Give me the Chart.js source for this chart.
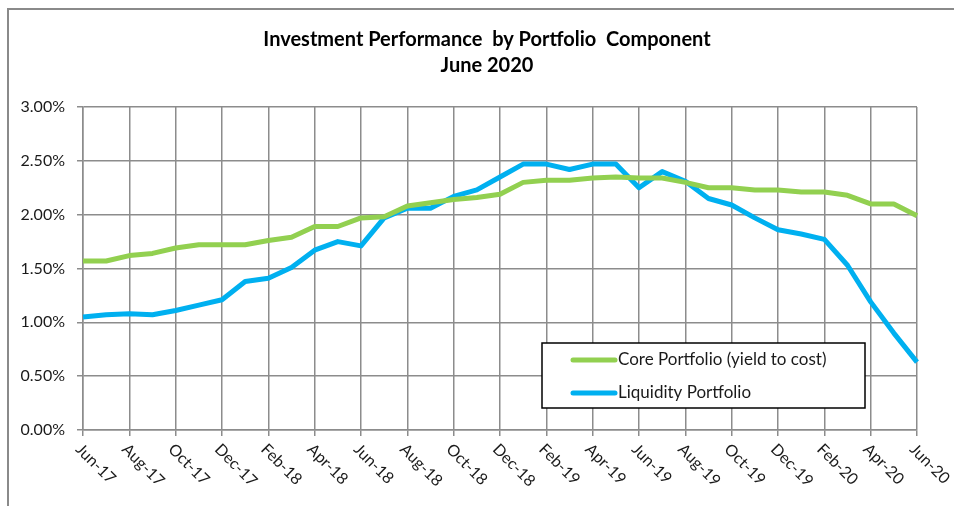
<!DOCTYPE html>
<html>
<head>
<meta charset="utf-8">
<script src="https://cdn.jsdelivr.net/npm/chart.js@4.4.1/dist/chart.umd.min.js"></script>
<style>
  html, body { margin: 0; padding: 0; background: #fff; }
  #perf-chart { display: block; }
</style>
</head>
<body>
<canvas id="perf-chart" width="954" height="506"></canvas>
<script>
// month labels, Jun-17 .. Jun-20
const months = [
   "Jun-17", "Jul-17", "Aug-17", "Sep-17", "Oct-17", "Nov-17", "Dec-17",
   "Jan-18", "Feb-18", "Mar-18", "Apr-18", "May-18", "Jun-18", "Jul-18", "Aug-18", "Sep-18", "Oct-18", "Nov-18", "Dec-18",
   "Jan-19", "Feb-19", "Mar-19", "Apr-19", "May-19", "Jun-19", "Jul-19", "Aug-19", "Sep-19", "Oct-19", "Nov-19", "Dec-19",
   "Jan-20", "Feb-20", "Mar-20", "Apr-20", "May-20", "Jun-20",
];

// yield, in percent
const corePortfolio = [
   1.57, 1.57, 1.62, 1.64, 1.69, 1.72, 1.72, 1.72, 1.76, 1.79, 1.89, 1.89, 1.97,
   1.98, 2.08, 2.11, 2.14, 2.16, 2.19, 2.30, 2.32, 2.32, 2.34, 2.35, 2.34,
   2.34, 2.30, 2.25, 2.25, 2.23, 2.23, 2.21, 2.21, 2.18, 2.10, 2.10, 1.99,
];
const liquidityPortfolio = [
   1.05, 1.07, 1.08, 1.07, 1.11, 1.16, 1.21, 1.38, 1.41, 1.51, 1.67, 1.75, 1.71,
   1.97, 2.06, 2.06, 2.17, 2.23, 2.35, 2.47, 2.47, 2.42, 2.47, 2.47, 2.25,
   2.40, 2.31, 2.15, 2.09, 1.97, 1.86, 1.82, 1.77, 1.53, 1.19, 0.90, 0.63,
];

const seriesNames = ["Core Portfolio (yield to cost)", "Liquidity Portfolio"];
const titleLines = ["Investment Performance  by Portfolio  Component", "June 2020"];

const gridGray = "#8c8c8c";
const fontName = "Lato, Calibri, 'Liberation Sans', sans-serif";

// frame around the whole chart (left + top edges visible)
const framePlugin = {
   id: "frame",
   beforeDraw(chart) {
      const ctx = chart.ctx;
      ctx.save();
      ctx.strokeStyle = "#8a8a8a";
      ctx.lineWidth = 2;
      ctx.beginPath();
      ctx.moveTo(8, chart.height);
      ctx.lineTo(8, 9);
      ctx.lineTo(chart.width, 9);
      ctx.stroke();
      ctx.restore();
   },
};

// two-line title, centred a bit right of the canvas middle like the original
const titlePlugin = {
   id: "twoLineTitle",
   afterDraw(chart) {
      const ctx = chart.ctx;
      ctx.save();
      ctx.font = "bold 20px " + fontName;
      ctx.fillStyle = "#000";
      ctx.textAlign = "center";
      ctx.textBaseline = "middle";
      titleLines.forEach(function (line, i) {
         ctx.fillText(line, 487, 40 + i * 26);
      });
      ctx.restore();
   },
};

// x labels slanted down-right, every second month
const slantLabels = {
   id: "slantLabels",
   afterDraw(chart) {
      const ctx = chart.ctx;
      const xScale = chart.scales.x;
      const base = chart.chartArea.bottom;
      ctx.save();
      ctx.font = "16px " + fontName;
      ctx.fillStyle = "#1a1a1a";
      ctx.textAlign = "left";
      ctx.textBaseline = "top";
      months.forEach(function (m, i) {
         if (i % 2 !== 0) return;
         const x = xScale.getPixelForValue(i);
         ctx.save();
         ctx.translate(x + 1, base + 11);
         ctx.rotate(Math.PI / 4);
         ctx.fillText(m, 0, 0);
         ctx.restore();
      });
      ctx.restore();
   },
};

// legend box inside the plot area
const boxLegend = {
   id: "boxLegend",
   afterDraw(chart) {
      const ctx = chart.ctx;
      const area = chart.chartArea;
      const bx = area.left + 459;
      const by = area.top + 236;
      const bw = 323;
      const bh = 65;
      ctx.save();
      ctx.fillStyle = "#fff";
      ctx.fillRect(bx, by, bw, bh);
      ctx.strokeStyle = "#000";
      ctx.lineWidth = 1.5;
      ctx.strokeRect(bx, by, bw, bh);
      ctx.font = "17px " + fontName;
      ctx.textBaseline = "middle";
      ctx.fillStyle = "#1a1a1a";
      chart.data.datasets.forEach(function (ds, i) {
         const y = by + 17 + i * 33;
         ctx.strokeStyle = ds.borderColor;
         ctx.lineWidth = 5;
         ctx.lineCap = "round";
         ctx.beginPath();
         ctx.moveTo(bx + 31, y);
         ctx.lineTo(bx + 73, y);
         ctx.stroke();
         ctx.fillText(ds.label, bx + 76, y);
      });
      ctx.restore();
   },
};

const ctx = document.getElementById("perf-chart").getContext("2d");
const perfChart = new Chart(ctx, {
   type: "line",
   data: {
      labels: months,
      datasets: [
         {
            label: seriesNames[0],
            data: corePortfolio,
            borderColor: "#92d050",
            borderWidth: 5,
            tension: 0,
            pointRadius: 0,
            borderJoinStyle: "round",
            fill: false,
         },
         {
            label: seriesNames[1],
            data: liquidityPortfolio,
            borderColor: "#00b0f0",
            borderWidth: 5,
            tension: 0,
            pointRadius: 0,
            borderJoinStyle: "round",
            fill: false,
         },
      ],
   },
   options: {
      responsive: false,
      animation: false,
      devicePixelRatio: 1,
      layout: {
         padding: { left: 0, right: 37, top: 107, bottom: 0 },
      },
      plugins: {
         legend: { display: false },
         tooltip: { enabled: false },
         title: { display: false },
      },
      scales: {
         x: {
            type: "category",
            offset: false,
            afterFit(scale) {
               scale.height = 76;
            },
            ticks: { display: false, autoSkip: false },
            grid: {
               color: (c) => (c.index % 2 === 0 ? gridGray : "rgba(0,0,0,0)"),
               lineWidth: 1.5,
               tickLength: 6,
               drawTicks: true,
            },
            border: { color: gridGray, width: 1.5 },
         },
         y: {
            min: 0,
            max: 3,
            afterFit(scale) {
               scale.width = 83;
            },
            ticks: {
               stepSize: 0.5,
               padding: 12,
               color: "#1a1a1a",
               font: { family: fontName, size: 16 },
               callback: (v) => v.toFixed(2) + "%",
            },
            grid: { color: gridGray, lineWidth: 1.5, tickLength: 6 },
            border: { color: gridGray, width: 1.5 },
         },
      },
   },
   plugins: [framePlugin, titlePlugin, slantLabels, boxLegend],
});
</script>
</body>
</html>
